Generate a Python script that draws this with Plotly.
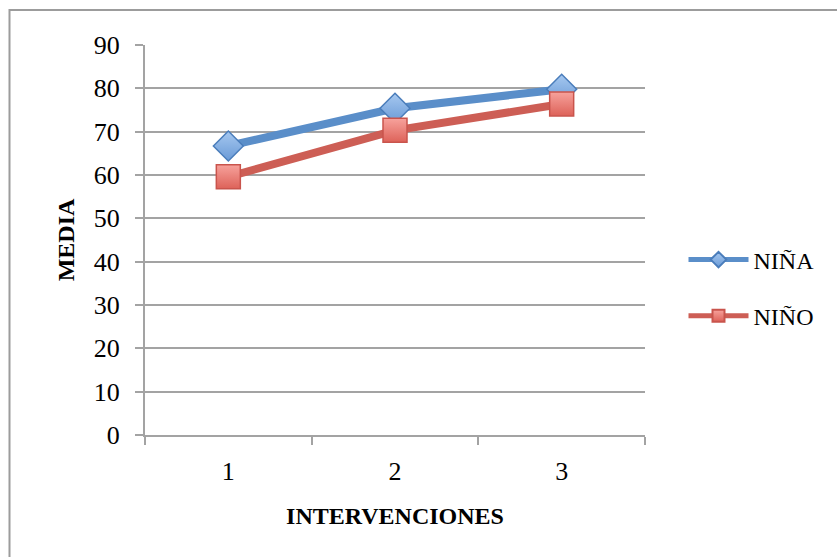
import plotly.graph_objects as go

# Datos: media por intervención
intervenciones = ["1", "2", "3"]
nina = [66.7, 75.4, 79.8]
nino = [59.6, 70.3, 76.4]
y_ticks = [0, 10, 20, 30, 40, 50, 60, 70, 80, 90]

FONT = "Liberation Serif"
GRID = "#a3a3a3"

fig = go.Figure()

fig.add_trace(go.Scatter(
    x=intervenciones, y=nina, name="NIÑA", mode="lines+markers",
    legendgroup="a",
    line=dict(color="#5a8ec9", width=8),
    marker=dict(symbol="diamond", size=23, color="#a6c8f0",
                gradient=dict(type="vertical", color="#6a9ad6"),
                line=dict(color="#4a7dbb", width=1.5)),
))
fig.add_trace(go.Scatter(
    x=intervenciones, y=nino, name="NIÑO", mode="lines+markers",
    legendgroup="b",
    line=dict(color="#cd5e55", width=8),
    marker=dict(symbol="square", size=24, color="#f7a29c",
                gradient=dict(type="vertical", color="#dd6259"),
                line=dict(color="#c9544c", width=1.5)),
))

# Marco exterior del gráfico
fig.add_shape(type="rect", xref="paper", yref="paper",
              x0=(9.5 - 145) / 500, x1=1.5, y0=-0.5, y1=(435 - 10) / 390,
              line=dict(color="#9c9c9c", width=2), fillcolor="rgba(0,0,0,0)",
              layer="below")

fig.update_layout(
    width=837, height=557,
    margin=dict(l=145, r=192, t=45, b=122),
    paper_bgcolor="white", plot_bgcolor="white",
    font=dict(family=FONT, size=25, color="black"),
    showlegend=True,
    legend=dict(x=1.077, y=(435 - 288) / 390, xanchor="left", yanchor="middle",
                font=dict(family=FONT, size=24), itemwidth=60,
                itemsizing="constant",
                tracegroupgap=22, bgcolor="rgba(0,0,0,0)"),
    xaxis=dict(
        type="category", range=[-0.5, 2.5],
        showgrid=False, showline=True, linecolor=GRID, linewidth=2,
        ticks="outside", ticklen=8, tickcolor=GRID, tickwidth=2,
        tickson="boundaries", ticklabelstandoff=12,
        tickfont=dict(family=FONT, size=26),
        title=dict(text="<b>INTERVENCIONES</b>", standoff=22,
                   font=dict(family=FONT, size=24)),
    ),
    yaxis=dict(
        range=[0, 90], tickvals=y_ticks,
        showgrid=True, gridcolor=GRID, gridwidth=2,
        showline=True, linecolor=GRID, linewidth=2,
        ticks="outside", ticklen=8, tickcolor=GRID, tickwidth=2,
        ticklabelstandoff=10, zeroline=False,
        tickfont=dict(family=FONT, size=26),
        title=dict(text="<b>MEDIA</b>", standoff=12,
                   font=dict(family=FONT, size=24)),
    ),
)

fig.write_html("out.html")
